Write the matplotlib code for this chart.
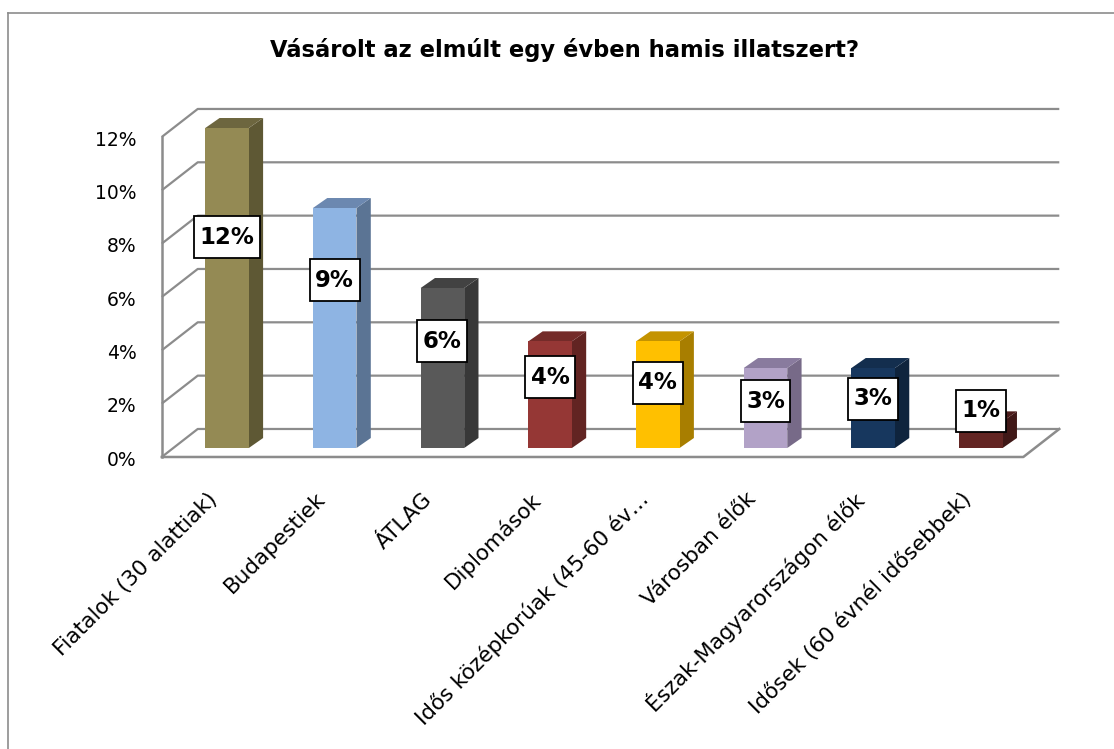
import matplotlib.pyplot as plt
from matplotlib.lines import Line2D
from matplotlib.patches import Polygon, Rectangle
from matplotlib.transforms import IdentityTransform

plt.rcParams["font.family"] = ["DejaVu Sans"]

TITLE = "Vásárolt az elmúlt egy évben hamis illatszert?"

categories = [
    "Fiatalok (30 alattiak)",
    "Budapestiek",
    "ÁTLAG",
    "Diplomások",
    "Idős középkorúak (45-60 év…",
    "Városban élők",
    "Észak-Magyarországon élők",
    "Idősek (60 évnél idősebbek)",
]
values = [12, 9, 6, 4, 4, 3, 3, 1]
yticks = [0, 2, 4, 6, 8, 10, 12]

front_colors = ["#948A54", "#8EB4E3", "#595959", "#953735",
                "#FFC000", "#B2A2C7", "#17375E", "#632523"]
side_colors = ["#5E5834", "#5B7494", "#383838", "#622422",
               "#A87E00", "#776A88", "#0F243D", "#401817"]
top_colors = ["#6D663F", "#6C88B0", "#424242", "#742B29",
              "#C49300", "#897B9E", "#132E4E", "#4C1C1B"]

# where Excel put each data label (in % on the bar plane), layout only
label_y = [7.9, 6.3, 4.0, 2.65, 2.45, 1.75, 1.85, 1.4]

GRID = "#8C8C8C"
BAR_W = 0.404
BAR_DX, BAR_DY = 0.133, 0.375
FRONT = (-0.107, -0.336)
BACK = (0.227, 0.714)
X_LEFT, X_RIGHT = -0.499, 7.501
PAD_X, PAD_Y = 5.5, 9.5  # label box padding in pixels

fig = plt.figure(figsize=(11.14, 7.49), dpi=100)
ax = fig.add_axes([0, 0, 1, 1])
ax.set_xlim(-2.108, 8.236)
ax.set_ylim(-11.286, 16.8)
ax.axis("off")

# walls and gridlines
fx, fy = FRONT
bx, by = BACK
for t in yticks:
    ax.plot([X_LEFT + fx, X_LEFT + bx, X_RIGHT + bx], [t + fy, t + by, t + by],
            color=GRID, lw=1.6, solid_capstyle="butt", zorder=1)
    ax.text(-0.84, t + fy - 0.12, f"{t}%", ha="right", va="center", fontsize=13.5)
ax.plot([X_LEFT + fx, X_LEFT + fx], [fy, yticks[-1] + fy], color=GRID, lw=1.8, zorder=1)
ax.plot([X_LEFT + fx, X_RIGHT + fx, X_RIGHT + bx], [fy, fy, by], color=GRID, lw=1.8, zorder=1)

# bars with a fake 3-D look
value_texts = []
for i, v in enumerate(values):
    left, right = i - BAR_W / 2, i + BAR_W / 2
    ax.add_patch(Polygon([(right, 0), (right + BAR_DX, BAR_DY),
                          (right + BAR_DX, v + BAR_DY), (right, v)],
                         closed=True, facecolor=side_colors[i], edgecolor="none", zorder=2))
    ax.add_patch(Polygon([(left, v), (left + BAR_DX, v + BAR_DY),
                          (right + BAR_DX, v + BAR_DY), (right, v)],
                         closed=True, facecolor=top_colors[i], edgecolor="none", zorder=2))
    ax.add_patch(Rectangle((left, 0), BAR_W, v, facecolor=front_colors[i],
                           edgecolor="none", zorder=3))
    value_texts.append(ax.text(i, label_y[i], f"{v}%", ha="center", va="center",
                               fontsize=16.5, fontweight="bold", zorder=6))
    ax.text(i - 0.12, -1.8, categories[i], rotation=45, rotation_mode="anchor",
            ha="right", va="center", fontsize=15.5)

fig.text(0.507, 1 - 50 / 749, TITLE, ha="center", va="center",
         fontsize=16.3, fontweight="bold")

# white label boxes sized around the text
fig.canvas.draw()
renderer = fig.canvas.get_renderer()
for t in value_texts:
    bb = t.get_window_extent(renderer)
    fig.add_artist(Rectangle((bb.x0 - PAD_X, bb.y0 - PAD_Y), bb.width + 2 * PAD_X,
                             bb.height + 2 * PAD_Y, transform=IdentityTransform(),
                             facecolor="white", edgecolor="black", linewidth=1.3,
                             zorder=5))
    t.remove()
    fig.add_artist(t)

# chart area border (top and left only, rest is cropped)
fig.add_artist(Line2D([7.5 / 1114, 1], [1 - 12.5 / 749] * 2, color=GRID, lw=1.2))
fig.add_artist(Line2D([7.5 / 1114] * 2, [0, 1 - 12.5 / 749], color=GRID, lw=1.2))

fig.savefig("out.png", dpi=100, facecolor="white")
